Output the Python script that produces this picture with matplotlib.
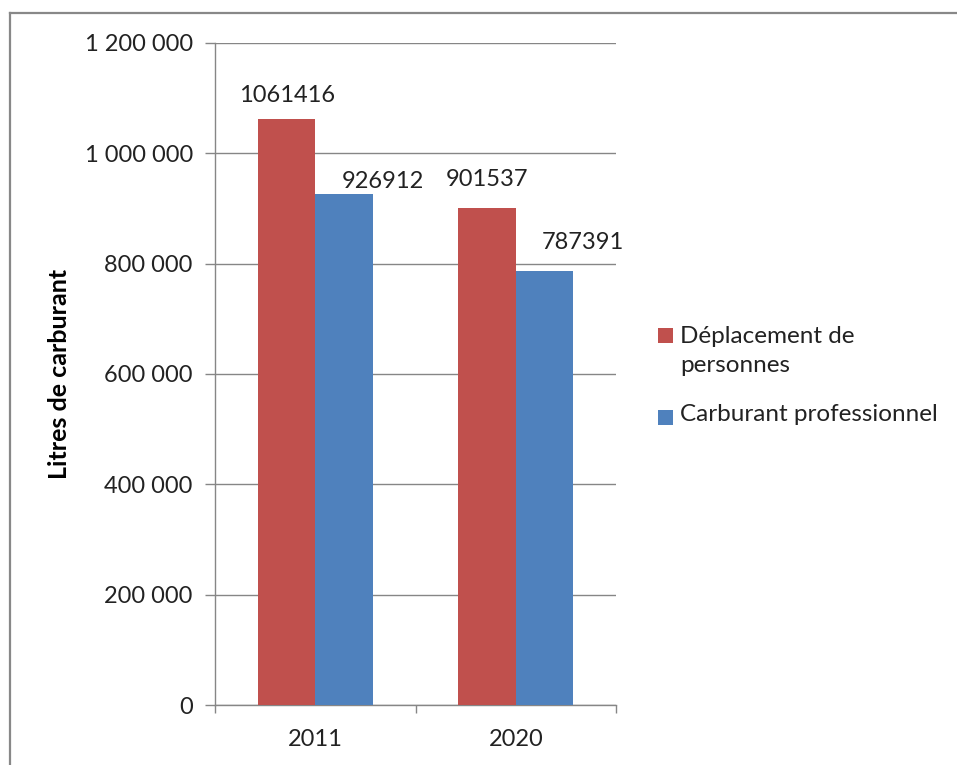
import matplotlib
matplotlib.use("Agg")
import matplotlib.pyplot as plt
from matplotlib.patches import Rectangle
from matplotlib.lines import Line2D
import numpy as np

# Data
years = ["2011", "2020"]
series_names = ["Déplacement de\npersonnes", "Carburant professionnel"]
deplacement = [1061416, 901537]
carburant_pro = [926912, 787391]
y_ticks = [0, 200000, 400000, 600000, 800000, 1000000, 1200000]
y_tick_labels = ["0", "200 000", "400 000", "600 000", "800 000", "1 000 000", "1 200 000"]
y_label = "Litres de carburant"

colors = ["#C0504D", "#4F81BD"]
grid_color = "#868686"
font = ["Lato", "DejaVu Sans"]
fs = 17

plt.rcParams["font.family"] = font

W, H = 957, 765
fig = plt.figure(figsize=(W / 100, H / 100), dpi=100)
fig.patch.set_facecolor("white")

# axes placed in pixel terms
left, right, top, bottom = 215, 616, 43, 705
ax = fig.add_axes([left / W, 1 - bottom / H, (right - left) / W, (bottom - top) / H])

x = np.arange(len(years))
bw = 0.286
series = [deplacement, carburant_pro]
offsets = [-bw / 2, bw / 2]
bars = []
for vals, off, col in zip(series, offsets, colors):
    b = ax.bar(x + off, vals, width=bw, color=col, edgecolor="none", zorder=3)
    bars.append(b)

ax.set_xlim(-0.5, len(years) - 0.5)
ax.set_ylim(0, 1200000)
ax.set_yticks(y_ticks)
ax.set_yticklabels(y_tick_labels, fontsize=fs, color="#222222")
ax.yaxis.grid(True, color=grid_color, linewidth=1.0, zorder=0)
ax.set_axisbelow(True)

# category ticks sit at the boundaries between groups
ax.set_xticks(x)
ax.set_xticklabels(years, fontsize=fs, color="#222222")
ax.tick_params(axis="x", which="major", length=0, pad=17)
ax.set_xticks(np.arange(len(years) + 1) - 0.5, minor=True)
ax.tick_params(axis="x", which="minor", length=6, color=grid_color, width=1.0)
ax.tick_params(axis="y", length=7, color=grid_color, width=1.0, pad=9)

for side in ["top", "right"]:
    ax.spines[side].set_visible(False)
for side in ["left", "bottom"]:
    ax.spines[side].set_color(grid_color)
    ax.spines[side].set_linewidth(1.0)

ax.set_ylabel(y_label, fontsize=18, fontweight="bold", color="black")
ax.yaxis.set_label_coords(-0.359, 0.50)

# value labels above bars
label_offsets = [[(0, 10), (0, 13)], [(28, 1), (28, 13)]]
for si, b in enumerate(bars):
    for bi, rect in enumerate(b):
        val = series[si][bi]
        dx, dy = label_offsets[si][bi]
        ax.annotate(f"{val}", xy=(rect.get_x() + rect.get_width() / 2, val),
                    xytext=(dx, dy), textcoords="offset points",
                    ha="center", va="bottom", fontsize=fs, color="#222222")

# legend drawn in figure pixels
sq = 15
legend_rows = [(658, 328, 326), (658, 410, 404)]
for (lx, ly, ty), col, name in zip(legend_rows, colors, series_names):
    fig.add_artist(Rectangle((lx / W, 1 - (ly + sq) / H), sq / W, sq / H,
                             transform=fig.transFigure, facecolor=col, edgecolor="none"))
    fig.text((lx + sq + 7) / W, 1 - ty / H, name, fontsize=17.5,
             color="#222222", va="top", ha="left", linespacing=1.45,
             transform=fig.transFigure)

# outer frame (top and left edges)
frame_col = "#888888"
fig.add_artist(Line2D([9.5 / W, 1.0], [1 - 13 / H, 1 - 13 / H], transform=fig.transFigure,
                      color=frame_col, linewidth=1.6))
fig.add_artist(Line2D([9.5 / W, 9.5 / W], [0, 1 - 13 / H], transform=fig.transFigure,
                      color=frame_col, linewidth=1.6))

fig.savefig("out.png", dpi=100, facecolor="white")
